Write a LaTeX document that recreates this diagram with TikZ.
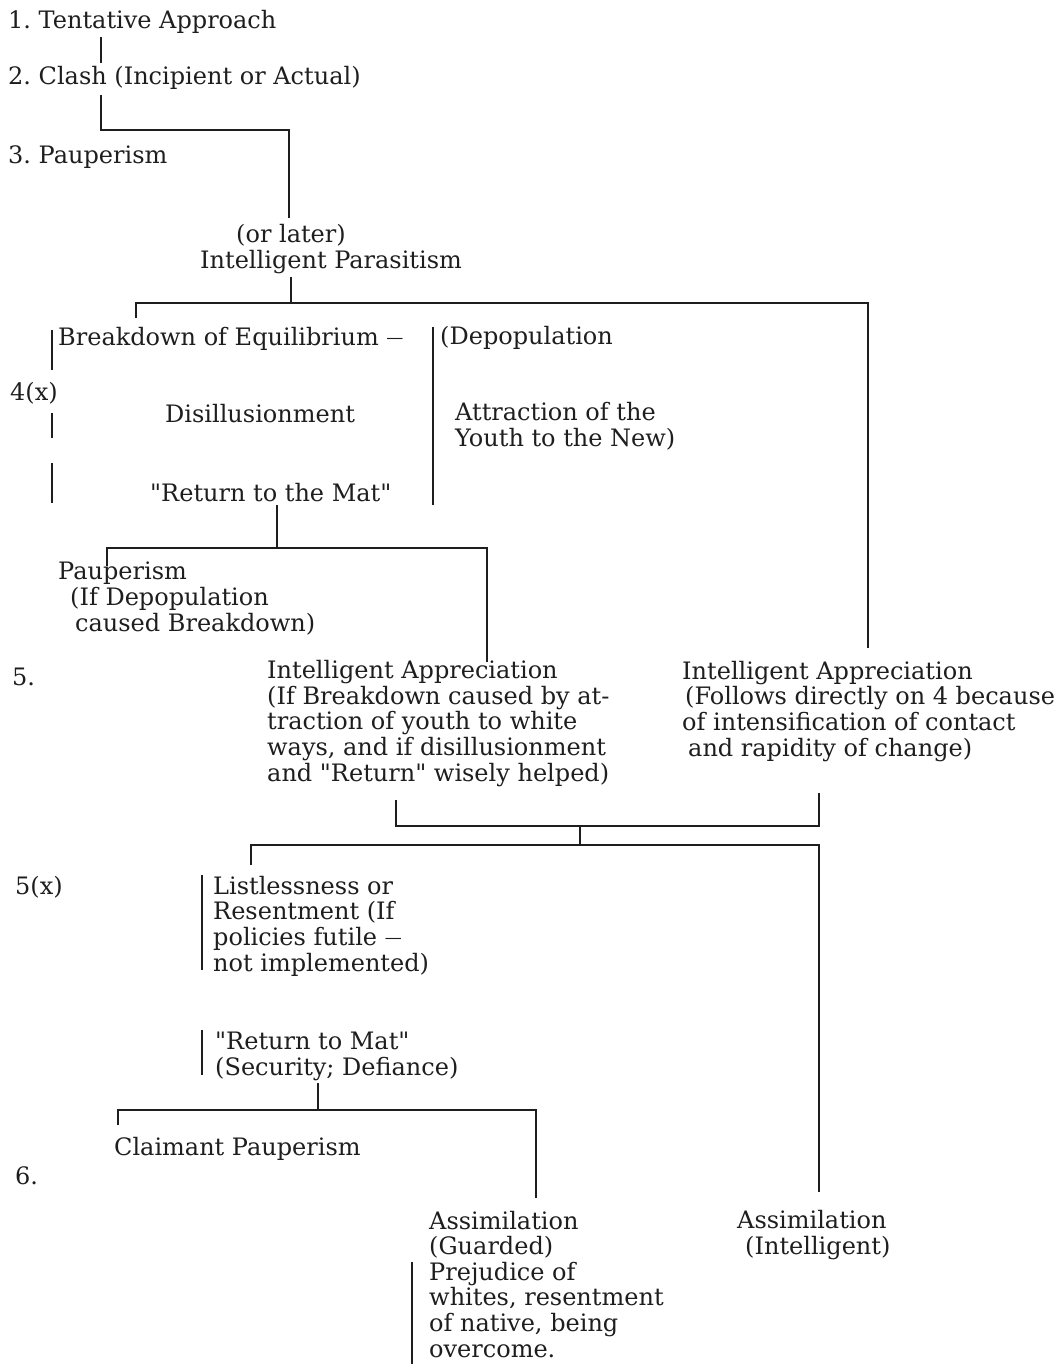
\documentclass[tikz,border=0pt]{standalone}
\usepackage{fontspec}
\setmainfont{DejaVu Serif}
\usepackage{tikz}
\usetikzlibrary{positioning}
\definecolor{ink}{HTML}{1e1e1e}
\frenchspacing
\newcommand{\shortdash}{\raisebox{2pt}{\fontsize{17}{20}\selectfont ---}}

% base west = grundlinie der letzten zeile
\tikzset{
  stage/.style={anchor=base west,inner sep=0pt,align=left,text=ink,
    font=\fontsize{24}{25.6}\selectfont},
  link/.style={ink,line width=1.5pt},
}

\begin{document}
\begin{tikzpicture}[x=1pt,y=-1pt]
  \useasboundingbox (0,0) rectangle (1060,1364);
  % stufe 1 - 3
  \node[stage] (tent) at (8,29) {1. Tentative Approach};
  \node[stage] (clash) at (8,85) {2. Clash (Incipient or Actual)};
  \node[stage] (paup) at (8,164) {3. Pauperism};
  \node[stage,anchor=base] (later) at (291,243) {(or later)};
  \node[stage] (parasit) at (200,268) {Intelligent Parasitism};
  % stufe 4
  \node[stage] (brk) at (58,345) {Breakdown of Equilibrium \shortdash};
  \node[stage] (fourx) at (10,400) {4(x)};
  \node[stage] (disill) at (165,422) {Disillusionment};
  \node[stage] (retmat) at (150,501) {\textquotedbl Return to the Mat\textquotedbl};
  \node[stage] (depop) at (440,344) {(Depopulation};
  \node[stage] (attr) at (455,446) {Attraction of the\\Youth to the New)};
  \node[stage] (paupb) at (58,631) {Pauperism\\\hspace*{12pt}(If Depopulation\\\hspace*{17pt}caused Breakdown)};
  % stufe 5
  \node[stage] (five) at (12,685) {5.};
  \node[stage] (appra) at (267,781) {Intelligent Appreciation\\(If Breakdown caused by at-\\traction of youth to white\\ways, and if disillusionment\\and \textquotedbl Return\textquotedbl\ wisely helped)};
  \node[stage] (apprb) at (682,756) {Intelligent Appreciation\\\hspace*{3pt}(Follows directly on 4 because\\of intensification of contact\\\hspace*{6pt}and rapidity of change)};
  \node[stage] (fivex) at (15,894) {5(x)};
  \node[stage] (listl) at (213,971) {Listlessness or\\Resentment (If\\policies futile \shortdash\\not implemented)};
  \node[stage] (retmatb) at (215,1075) {\textquotedbl Return to Mat\textquotedbl\\(Security; Defiance)};
  % stufe 6
  \node[stage] (claim) at (114,1155) {Claimant Pauperism};
  \node[stage] (six) at (15,1184) {6.};
  \node[stage] (assimg) at (429,1357) {Assimilation\\(Guarded)\\Prejudice of\\whites, resentment\\of native, being\\overcome.};
  \node[stage] (assimi) at (737,1254) {Assimilation\\\hspace*{8pt}(Intelligent)};

  % verbindungen
  \coordinate (ja) at (101,130);
  \coordinate (jb) at (291,303);
  \coordinate (jc) at (277,548);
  \coordinate (jd) at (580,826);
  \coordinate (je) at (580,845);
  \coordinate (jf) at (318,1110);
  \draw[link] (101,37) -- (101,63);
  \draw[link] (101,95) -- (ja) -- (289,130) -- (289,218);
  \draw[link] (291,277) -- (jb);
  \draw[link] (136,318) -- (136,303) -- (jb) -- (868,303) -- (868,648);
  \draw[link] (52,330) -- (52,370);
  \draw[link] (52,413) -- (52,438);
  \draw[link] (52,463) -- (52,503);
  \draw[link] (433,327) -- (433,505);
  \draw[link] (277,505) -- (jc);
  \draw[link] (107,566) -- (107,548) -- (jc) -- (487,548) -- (487,662);
  \draw[link] (396,800) -- (396,826) -- (jd) -- (819,826) -- (819,793);
  \draw[link] (jd) -- (je);
  \draw[link] (251,865) -- (251,845) -- (je) -- (819,845) -- (819,1192);
  \draw[link] (202,875) -- (202,970);
  \draw[link] (202,1030) -- (202,1075);
  \draw[link] (318,1083) -- (jf);
  \draw[link] (118,1125) -- (118,1110) -- (jf) -- (536,1110) -- (536,1198);
  \draw[link] (412,1262) -- (412,1364);
\end{tikzpicture}
\end{document}
